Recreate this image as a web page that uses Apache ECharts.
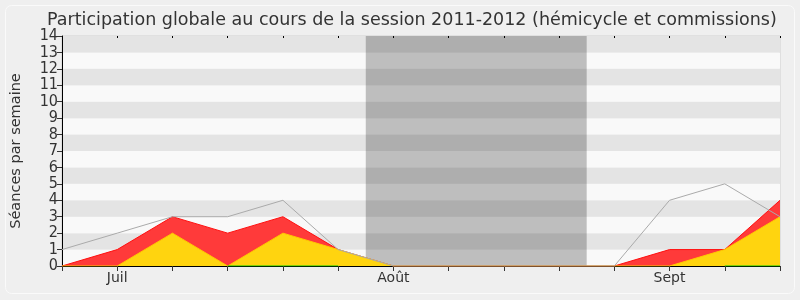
<!DOCTYPE html>
<html><head><meta charset="utf-8">
<script src="https://cdn.jsdelivr.net/npm/echarts@6/dist/echarts.min.js"></script>
<style>html,body{margin:0;padding:0;background:#efefef;}#c{width:800px;height:300px;}</style>
</head><body><div id="c"></div>
<script>
const xLabels = ['', 'Juil', '', '', '', '', 'Août', '', '', '', '', 'Sept', '', ''];
const totalLine = [1, 2, 3, 3, 4, 1, 0, 0, 0, 0, 0, 4, 5, 3];
const redValues = [0, 1, 3, 2, 3, 1, 0, 0, 0, 0, 0, 1, 1, 4];
const yellowValues = [0, 0, 2, 0, 2, 1, 0, 0, 0, 0, 0, 0, 1, 3];
const greenValues = [null, null, null, 0, 0, 0, null, null, null, null, null, null, 0, 0];
const vacation = [5.5, 9.5];
const title = 'Participation globale au cours de la session 2011-2012 (hémicycle et commissions)';
const yName = 'Séances par semaine';

const pairs = arr => arr.map((v, i) => [i, v]);
const chart = echarts.init(document.getElementById('c'), null, {renderer: 'canvas'});
const font = 'DejaVu Sans';
chart.setOption({
  backgroundColor: '#efefef',
  animation: false,
  graphic: [{type: 'rect', shape: {x: 5.5, y: 5.5, width: 789, height: 288, r: 6},
    style: {fill: 'none', stroke: '#fafafa', lineWidth: 1}, z: -1}],
  title: {text: title, left: 42, top: 6,
    textStyle: {fontFamily: font, fontSize: 17.5, fontWeight: 'normal', color: '#333'}},
  grid: {left: 62, right: 20, top: 36, bottom: 34, show: true, borderColor: '#d0d0d0', borderWidth: 1, backgroundColor: 'transparent'},
  xAxis: [{
    type: 'value', min: 0, max: 13, interval: 1,
    axisLine: {show: true, lineStyle: {color: '#000', width: 1}},
    axisTick: {show: true, length: 5, lineStyle: {color: '#333'}},
    axisLabel: {formatter: v => xLabels[v] || '', fontFamily: font, fontSize: 14, color: '#333', margin: 5},
    splitLine: {show: false}
  }, {
    type: 'value', position: 'top', min: 0, max: 13, interval: 1,
    axisLine: {show: false}, axisTick: {show: true, inside: true, length: 2, lineStyle: {color: '#000'}},
    axisLabel: {show: false}, splitLine: {show: false}
  }],
  yAxis: {
    type: 'value', min: 0, max: 14, interval: 1,
    name: yName, nameLocation: 'middle', nameGap: 38, nameRotate: 90,
    nameTextStyle: {fontFamily: font, fontSize: 14.5, color: '#333'},
    axisLine: {show: true, lineStyle: {color: '#000'}},
    axisTick: {show: true, length: 5, lineStyle: {color: '#333'}},
    axisLabel: {fontFamily: '"DejaVu Sans Condensed", "DejaVu Sans"', fontSize: 16, color: '#333', margin: 4, lineHeight: 14},
    splitLine: {show: false},
    splitArea: {show: true, areaStyle: {color: ['#f9f9f9', '#e4e4e4']}}
  },
  series: [
    {type: 'line', data: [], z: 1, silent: true,
     markArea: {silent: true, itemStyle: {color: 'rgba(0,0,0,0.235)'},
       data: [[{xAxis: vacation[0]}, {xAxis: vacation[1]}]]}},
    {type: 'line', data: pairs(redValues), symbol: 'none', z: 2,
     lineStyle: {color: '#ff1010', width: 1}, areaStyle: {color: '#ff3a3a', opacity: 1}},
    {type: 'line', data: pairs(yellowValues), symbol: 'none', z: 3,
     lineStyle: {color: '#ffc800', width: 1}, areaStyle: {color: '#ffd40f', opacity: 1}},
    {type: 'line', data: pairs(greenValues), symbol: 'none', z: 4,
     lineStyle: {color: '#00cc00', width: 1}},
    {type: 'line', data: pairs(totalLine), symbol: 'none', z: 5,
     lineStyle: {color: '#aaaaaa', width: 1}}
  ]
});
</script></body></html>
